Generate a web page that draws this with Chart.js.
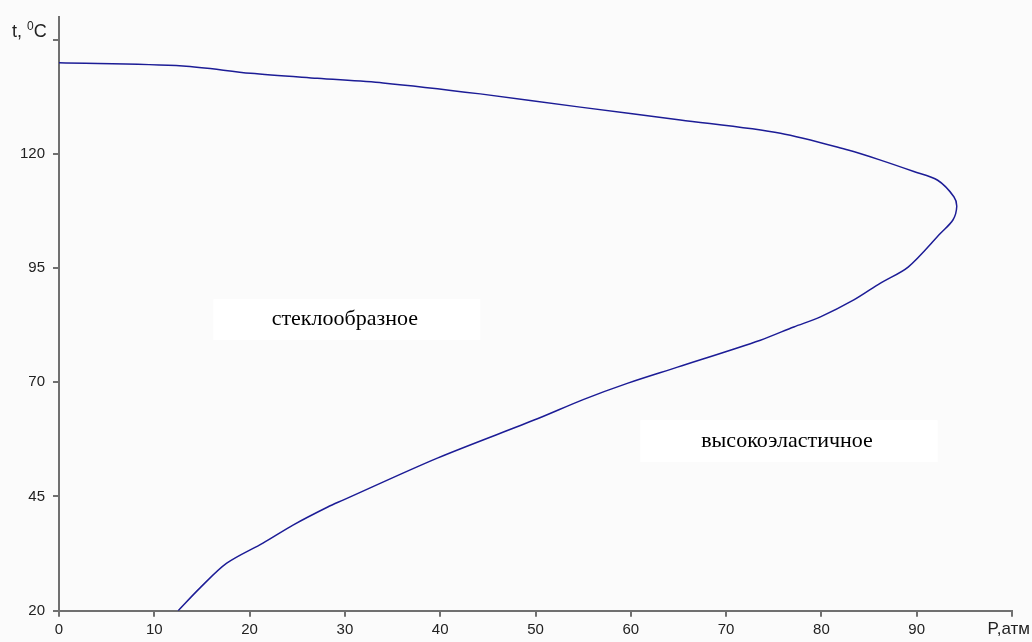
<!DOCTYPE html>
<html>
<head>
<meta charset="utf-8">
<script src="https://cdn.jsdelivr.net/npm/chart.js@4.4.1/dist/chart.umd.min.js"></script>
<style>
  html, body { margin: 0; padding: 0; background: #fbfbfb; }
  #graph { display: block; }
</style>
</head>
<body>
<canvas id="graph" width="1032" height="642"></canvas>
<script>
// P, атм (x) and t, °C (y), top branch first
const pressure = [0, 13.0, 20.1, 27.1, 34.0, 44.2, 54.7, 65.2, 75.7, 82.8, 86.2, 89.7, 92.2, 93.9, 94.2,
                  93.8, 92.5, 89.1, 86.2, 83.4, 79.9, 77.1, 73.6, 64.9, 59.7, 55.0, 50.2, 39.7, 29.8,
                  28.2, 24.6, 21.4, 17.6, 14.8, 12.5];
const temperature = [139.9, 139.2, 137.6, 136.5, 135.5, 133.1, 130.2, 127.4, 124.5, 120.8, 118.6, 116.1, 114.2, 110.6, 108.4,
                     105.5, 102.6, 95.2, 91.7, 88.0, 84.3, 82.1, 79.2, 73.3, 69.8, 66.2, 62.0, 53.4, 44.2,
                     42.7, 38.8, 34.8, 30.4, 25.0, 20.0];
const xTicks = [0, 10, 20, 30, 40, 50, 60, 70, 80, 90];
const yTicks = [20, 45, 70, 95, 120];
const regionLabels = ['стеклообразное', 'высокоэластичное'];

const points = pressure.map((p, i) => ({ x: p, y: temperature[i] }));

const axisColor = '#707070';
const tickFont = { family: 'Liberation Sans, Arial, sans-serif', size: 15 };

const extras = {
    id: 'extras',
    beforeDatasetsDraw(chart) {
        const c = chart.ctx;
        const xs = chart.scales.x, ys = chart.scales.y;
        // region label boxes
        const boxes = [
            { x1: 16.2, x2: 44.2, y1: 88.2, y2: 79.2, label: regionLabels[0] },
            { x1: 61.0, x2: 92.2, y1: 61.7, y2: 52.5, label: regionLabels[1] }
        ];
        c.save();
        for (const b of boxes) {
            const l = xs.getPixelForValue(b.x1), r = xs.getPixelForValue(b.x2);
            const t = ys.getPixelForValue(b.y1), btm = ys.getPixelForValue(b.y2);
            c.fillStyle = '#ffffff';
            c.fillRect(l, t, r - l, btm - t);
            c.fillStyle = '#000';
            c.font = '22px "Liberation Serif", "Times New Roman", serif';
            c.textAlign = 'center';
            c.textBaseline = 'middle';
            c.fillText(b.label, (l + r) / 2 - 2, (t + btm) / 2);
        }
        c.restore();
    },
    afterDraw(chart) {
        const c = chart.ctx;
        const xs = chart.scales.x, ys = chart.scales.y;
        const x0 = xs.getPixelForValue(0);
        const yTop = ys.getPixelForValue(145);
        c.save();
        // axis line runs a bit above the top tick
        c.strokeStyle = axisColor;
        c.lineWidth = 2;
        c.beginPath();
        c.moveTo(x0, yTop);
        c.lineTo(x0, 16);
        c.stroke();
        // y axis title with superscript
        c.fillStyle = '#222';
        c.textBaseline = 'alphabetic';
        c.textAlign = 'left';
        c.font = '18px "Liberation Sans", Arial, sans-serif';
        let tx = 12;
        const base = 37;
        c.fillText('t, ', tx, base);
        tx += c.measureText('t, ').width;
        c.font = '12px "Liberation Sans", Arial, sans-serif';
        c.fillText('0', tx, base - 7);
        tx += c.measureText('0').width;
        c.font = '18px "Liberation Sans", Arial, sans-serif';
        c.fillText('C', tx, base);
        // x axis title at the end of the axis
        c.font = '17px "Liberation Sans", Arial, sans-serif';
        c.textAlign = 'right';
        c.fillText('P,атм', 1030, 634);
        c.restore();
    }
};

const graph = new Chart(document.getElementById('graph'), {
    type: 'scatter',
    data: {
        datasets: [{
            data: points,
            showLine: true,
            borderColor: 'rgb(28, 28, 150)',
            borderWidth: 1.5,
            pointRadius: 0,
            tension: 0.3
        }]
    },
    options: {
        responsive: false,
        animation: false,
        layout: { padding: { top: 39.5, right: 20, left: 0, bottom: 0 } },
        plugins: { legend: { display: false }, tooltip: { enabled: false } },
        scales: {
            x: {
                type: 'linear',
                min: 0,
                max: 100,
                afterBuildTicks: s => { s.ticks = xTicks.concat([100]).map(v => ({ value: v })); },
                afterFit: s => { s.height = 31.3; s.paddingLeft = 0; s.paddingRight = 0; },
                ticks: {
                    color: '#222',
                    font: tickFont,
                    padding: 4,
                    maxRotation: 0,
                    callback: v => (v === 100 ? '' : v)
                },
                grid: { display: true, drawOnChartArea: false, drawTicks: true, tickLength: 6, color: axisColor, lineWidth: 2 },
                border: { display: true, color: axisColor, width: 2 }
            },
            y: {
                type: 'linear',
                min: 20,
                max: 145,
                afterBuildTicks: s => { s.ticks = yTicks.concat([145]).map(v => ({ value: v })); },
                afterFit: s => { s.width = 59; s.paddingTop = 0; s.paddingBottom = 0; },
                ticks: {
                    color: '#222',
                    font: tickFont,
                    padding: 8,
                    callback: v => (v === 145 ? '' : v)
                },
                grid: { display: true, drawOnChartArea: false, drawTicks: true, tickLength: 6, color: axisColor, lineWidth: 2 },
                border: { display: true, color: axisColor, width: 2 }
            }
        }
    },
    plugins: [extras]
});
</script>
</body>
</html>
